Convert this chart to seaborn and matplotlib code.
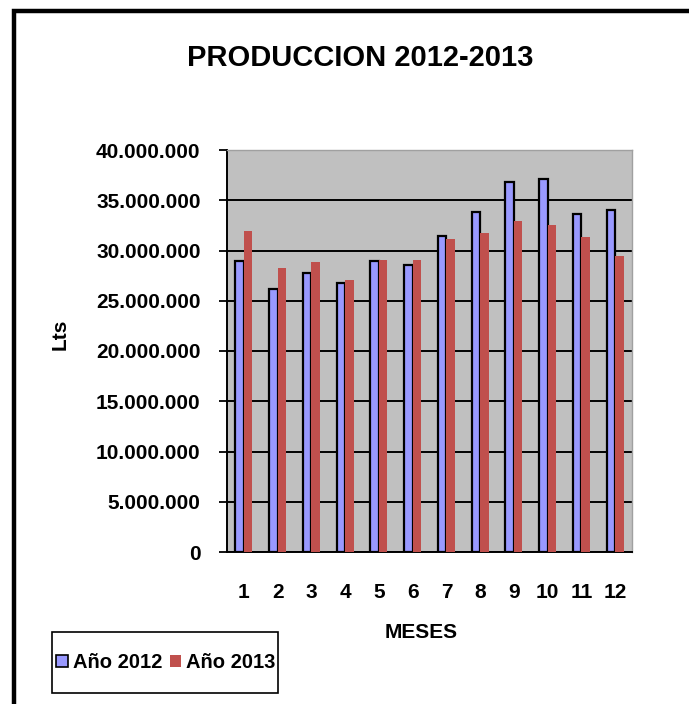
import numpy as np
import pandas as pd
import matplotlib
matplotlib.use("Agg")
import matplotlib.pyplot as plt
from matplotlib.patches import Patch, Rectangle
from matplotlib.ticker import FuncFormatter, FixedLocator
import seaborn as sns

# data (millions of litres per month)
meses = [str(m) for m in range(1, 13)]
prod_2012 = [29.0, 26.2, 27.8, 26.8, 29.0, 28.6, 31.4, 33.8, 36.8, 37.1, 33.6, 34.0]
prod_2013 = [31.9, 28.3, 28.9, 27.1, 29.1, 29.1, 31.1, 31.7, 32.9, 32.5, 31.3, 29.5]
series = ["Año 2012", "Año 2013"]
colores = ["#9999FF", "#C0504D"]

df = pd.DataFrame({
    "mes": meses * 2,
    "serie": [series[0]] * 12 + [series[1]] * 12,
    "lts": [v * 1e6 for v in prod_2012 + prod_2013],
})

sns.set_style("white")
plt.rcParams["font.family"] = ["Liberation Sans", "DejaVu Sans"]
plt.rcParams["font.weight"] = "bold"
plt.rcParams["text.color"] = "black"
plt.rcParams["xtick.color"] = "black"
plt.rcParams["ytick.color"] = "black"

W, H = 689, 704
fig = plt.figure(figsize=(W / 100, H / 100), dpi=100)
ax = fig.add_axes([227 / W, 1 - 552 / H, (632 - 227) / W, (552 - 150) / H])
ax.set_facecolor("#C0C0C0")

sns.barplot(data=df, x="mes", y="lts", hue="serie", palette=colores,
            width=0.5, gap=0, saturation=1, ax=ax, legend=False, zorder=3)

# blue bars get a black outline, red ones none
for bar in ax.containers[0]:
    bar.set_edgecolor("black")
    bar.set_linewidth(1.6)
for bar in ax.containers[1]:
    bar.set_edgecolor("none")

ax.set_ylim(0, 40e6)
ax.set_xlim(-0.5, 11.5)
ax.set_yticks(np.arange(0, 40e6 + 1, 5e6))
ax.yaxis.set_major_formatter(FuncFormatter(
    lambda v, p: "0" if v == 0 else f"{int(v):,}".replace(",", ".")))
ax.grid(axis="y", color="black", linewidth=1.4, zorder=1)
ax.set_axisbelow(True)

ax.xaxis.set_minor_locator(FixedLocator(np.arange(-0.5, 12, 1)))
ax.tick_params(axis="x", which="major", length=0, pad=22, labelsize=15, labelcolor="black")
ax.tick_params(axis="x", which="minor", length=6, width=1.3, color="black", direction="out")
ax.tick_params(axis="y", length=6, width=1.3, color="black", direction="out",
               pad=13, labelsize=15, left=True, labelcolor="black")
for lab in ax.get_xticklabels() + ax.get_yticklabels():
    lab.set_fontweight("bold")

ax.set_xlabel("")
ax.set_ylabel("")
for s in ["left", "bottom"]:
    ax.spines[s].set_color("black")
    ax.spines[s].set_linewidth(1.4)
for s in ["top", "right"]:
    ax.spines[s].set_color("#A0A0A0")
    ax.spines[s].set_linewidth(1)

fig.text(360 / W, 1 - 58 / H, "PRODUCCION 2012-2013", ha="center", va="center",
         fontsize=21, fontweight="bold", color="black")
fig.text(60 / W, 1 - 334 / H, "Lts", ha="center", va="center", rotation=90,
         fontsize=15, fontweight="bold", color="black")
fig.text(421 / W, 1 - 632 / H, "MESES", ha="center", va="center",
         fontsize=15, fontweight="bold", color="black")

# legend frame drawn by hand so the box matches the original size
fig.add_artist(Rectangle((52 / W, 1 - 693 / H), (278 - 52) / W, (693 - 632) / H,
                         transform=fig.transFigure, fill=False,
                         edgecolor="black", linewidth=1.2))
handles = [Patch(facecolor=colores[0], edgecolor="black", linewidth=1.2),
           Patch(facecolor=colores[1], edgecolor="none")]
leg = fig.legend(handles, series, loc="center", bbox_to_anchor=(166 / W, 1 - 663 / H),
                 ncol=2, frameon=False, handlelength=0.55, handleheight=0.55,
                 handletextpad=0.25, columnspacing=0.4, borderpad=0.2,
                 prop={"size": 14.5, "weight": "bold"})
for t in leg.get_texts():
    t.set_color("black")

# outer chart border (left and top visible, rest cut off)
fig.add_artist(Rectangle((14 / W, -0.1), 1.2, 1 - 11 / H + 0.1, transform=fig.transFigure,
                         fill=False, edgecolor="black", linewidth=3.2))

fig.savefig("out.png", dpi=100)
